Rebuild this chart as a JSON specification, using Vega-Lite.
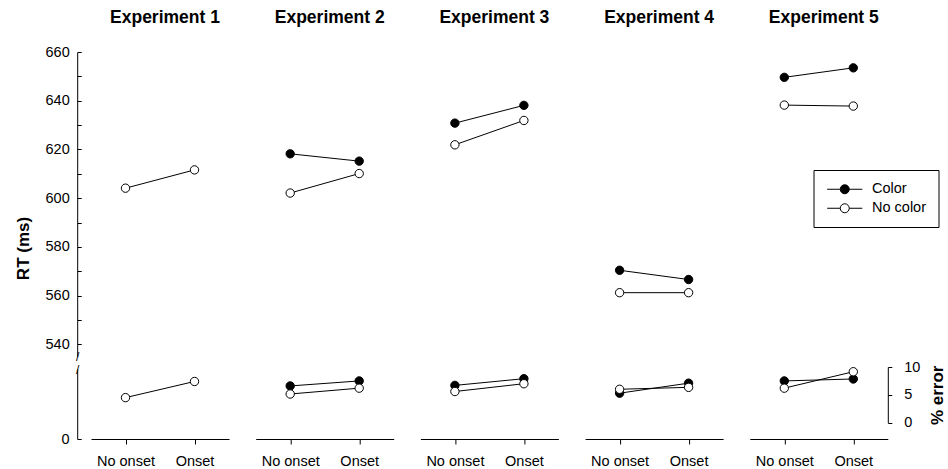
{
  "$schema": "https://vega.github.io/schema/vega-lite/v6.json",
  "padding": {"left": 14, "top": 9, "right": 0, "bottom": 0},
  "data": {"values": [
    {"Experiment": 1, "Onset": "No onset", "Condition": "No color", "RT": 604.1, "Err": 4.5},
    {"Experiment": 1, "Onset": "Onset", "Condition": "No color", "RT": 611.6, "Err": 7.4},
    {"Experiment": 2, "Onset": "No onset", "Condition": "Color", "RT": 618.2, "Err": 6.6},
    {"Experiment": 2, "Onset": "Onset", "Condition": "Color", "RT": 615.2, "Err": 7.5},
    {"Experiment": 2, "Onset": "No onset", "Condition": "No color", "RT": 602.1, "Err": 5.15},
    {"Experiment": 2, "Onset": "Onset", "Condition": "No color", "RT": 610.1, "Err": 6.2},
    {"Experiment": 3, "Onset": "No onset", "Condition": "Color", "RT": 630.8, "Err": 6.7},
    {"Experiment": 3, "Onset": "Onset", "Condition": "Color", "RT": 638.1, "Err": 7.9},
    {"Experiment": 3, "Onset": "No onset", "Condition": "No color", "RT": 621.9, "Err": 5.6},
    {"Experiment": 3, "Onset": "Onset", "Condition": "No color", "RT": 631.9, "Err": 7.0},
    {"Experiment": 4, "Onset": "No onset", "Condition": "Color", "RT": 570.4, "Err": 5.3},
    {"Experiment": 4, "Onset": "Onset", "Condition": "Color", "RT": 566.6, "Err": 7.1},
    {"Experiment": 4, "Onset": "No onset", "Condition": "No color", "RT": 561.2, "Err": 6.0},
    {"Experiment": 4, "Onset": "Onset", "Condition": "No color", "RT": 561.2, "Err": 6.35},
    {"Experiment": 5, "Onset": "No onset", "Condition": "Color", "RT": 649.6, "Err": 7.5},
    {"Experiment": 5, "Onset": "Onset", "Condition": "Color", "RT": 653.5, "Err": 7.85},
    {"Experiment": 5, "Onset": "No onset", "Condition": "No color", "RT": 638.2, "Err": 6.2},
    {"Experiment": 5, "Onset": "Onset", "Condition": "No color", "RT": 637.8, "Err": 9.15}
  ]},
  "spacing": 26.7,
  "bounds": "flush",
  "hconcat": [
    {
      "width": 138, "height": 397,
      "title": {"text": "Experiment 1"},
      "transform": [{"filter": "datum.Experiment == 1"}],
      "encoding": {"x": {"field": "Onset", "type": "nominal", "scale": {"type": "point", "domain": ["No onset", "Onset"], "padding": 0.5}}},
      "layer": [
        {
          "encoding": {"y": {"field": "RT", "type": "quantitative", "scale": {"domain": [535, 660], "range": [314.5, 10], "nice": false, "zero": false},
            "axis": {"orient": "left", "offset": 13.8, "values": [540, 550, 560, 570, 580, 590, 600, 610, 620, 630, 640, 650, 660], "labelExpr": "datum.value % 20 == 0 ? datum.label : ''", "tickSize": -4, "labelPadding": 12, "title": "RT (ms)", "titleFontSize": 17, "titleFontWeight": "bold", "titleY": 206, "titlePadding": 13}}},
          "layer": [
            {"mark": {"type": "line", "color": "black", "strokeWidth": 1}, "encoding": {"detail": {"field": "Condition"}}},
            {"mark": {"type": "point", "filled": true, "size": 70, "stroke": "black", "strokeWidth": 1, "opacity": 1}, "encoding": {"fill": {"field": "Condition", "type": "nominal", "scale": {"domain": ["Color", "No color"], "range": ["black", "white"]}, "legend": {"title": null}}}}
          ]
        },
        {
          "encoding": {"y": {"field": "Err", "type": "quantitative", "scale": {"domain": [0, 10], "range": [380.7, 325], "nice": false}, "axis": null}},
          "layer": [
            {"mark": {"type": "line", "color": "black", "strokeWidth": 1}, "encoding": {"detail": {"field": "Condition"}}},
            {"mark": {"type": "point", "filled": true, "size": 70, "stroke": "black", "strokeWidth": 1, "opacity": 1}, "encoding": {"fill": {"field": "Condition", "type": "nominal", "scale": {"domain": ["Color", "No color"], "range": ["black", "white"]}, "legend": {"title": null}}}}
          ]
        },
        {
          "mark": {"type": "point", "opacity": 0},
          "encoding": {"y": {"datum": 0, "type": "quantitative", "scale": {"domain": [0, 1], "range": [397, 327], "nice": false},
            "axis": {"orient": "left", "offset": 13.8, "values": [0], "labelExpr": "'0'", "tickSize": -4, "labelPadding": 12, "title": null}}}
        },
        {
          "mark": {"type": "point", "opacity": 0},
          "encoding": {"y": {"datum": 0, "type": "quantitative", "scale": {"domain": [0, 1], "range": [314, 327], "nice": false},
            "axis": {"orient": "left", "offset": 13.8, "values": [0, 1], "labelExpr": "'/'", "domain": false, "ticks": false, "tickSize": 0, "labelPadding": 0, "labelAlign": "center", "labelBaseline": "middle", "labelFontSize": 12, "title": null}}}
        }
      ],
      "resolve": {"scale": {"y": "independent"}}
    },
    {
      "width": 138, "height": 397,
      "title": {"text": "Experiment 2"},
      "transform": [{"filter": "datum.Experiment == 2"}],
      "encoding": {"x": {"field": "Onset", "type": "nominal", "scale": {"type": "point", "domain": ["No onset", "Onset"], "padding": 0.5}}},
      "layer": [
        {
          "encoding": {"y": {"field": "RT", "type": "quantitative", "scale": {"domain": [535, 660], "range": [314.5, 10], "nice": false, "zero": false}, "axis": null}},
          "layer": [
            {"mark": {"type": "line", "color": "black", "strokeWidth": 1}, "encoding": {"detail": {"field": "Condition"}}},
            {"mark": {"type": "point", "filled": true, "size": 70, "stroke": "black", "strokeWidth": 1, "opacity": 1}, "encoding": {"fill": {"field": "Condition", "type": "nominal", "scale": {"domain": ["Color", "No color"], "range": ["black", "white"]}, "legend": {"title": null}}}}
          ]
        },
        {
          "encoding": {"y": {"field": "Err", "type": "quantitative", "scale": {"domain": [0, 10], "range": [380.7, 325], "nice": false}, "axis": null}},
          "layer": [
            {"mark": {"type": "line", "color": "black", "strokeWidth": 1}, "encoding": {"detail": {"field": "Condition"}}},
            {"mark": {"type": "point", "filled": true, "size": 70, "stroke": "black", "strokeWidth": 1, "opacity": 1}, "encoding": {"fill": {"field": "Condition", "type": "nominal", "scale": {"domain": ["Color", "No color"], "range": ["black", "white"]}, "legend": {"title": null}}}}
          ]
        }
      ],
      "resolve": {"scale": {"y": "independent"}}
    },
    {
      "width": 138, "height": 397,
      "title": {"text": "Experiment 3"},
      "transform": [{"filter": "datum.Experiment == 3"}],
      "encoding": {"x": {"field": "Onset", "type": "nominal", "scale": {"type": "point", "domain": ["No onset", "Onset"], "padding": 0.5}}},
      "layer": [
        {
          "encoding": {"y": {"field": "RT", "type": "quantitative", "scale": {"domain": [535, 660], "range": [314.5, 10], "nice": false, "zero": false}, "axis": null}},
          "layer": [
            {"mark": {"type": "line", "color": "black", "strokeWidth": 1}, "encoding": {"detail": {"field": "Condition"}}},
            {"mark": {"type": "point", "filled": true, "size": 70, "stroke": "black", "strokeWidth": 1, "opacity": 1}, "encoding": {"fill": {"field": "Condition", "type": "nominal", "scale": {"domain": ["Color", "No color"], "range": ["black", "white"]}, "legend": {"title": null}}}}
          ]
        },
        {
          "encoding": {"y": {"field": "Err", "type": "quantitative", "scale": {"domain": [0, 10], "range": [380.7, 325], "nice": false}, "axis": null}},
          "layer": [
            {"mark": {"type": "line", "color": "black", "strokeWidth": 1}, "encoding": {"detail": {"field": "Condition"}}},
            {"mark": {"type": "point", "filled": true, "size": 70, "stroke": "black", "strokeWidth": 1, "opacity": 1}, "encoding": {"fill": {"field": "Condition", "type": "nominal", "scale": {"domain": ["Color", "No color"], "range": ["black", "white"]}, "legend": {"title": null}}}}
          ]
        }
      ],
      "resolve": {"scale": {"y": "independent"}}
    },
    {
      "width": 138, "height": 397,
      "title": {"text": "Experiment 4"},
      "transform": [{"filter": "datum.Experiment == 4"}],
      "encoding": {"x": {"field": "Onset", "type": "nominal", "scale": {"type": "point", "domain": ["No onset", "Onset"], "padding": 0.5}}},
      "layer": [
        {
          "encoding": {"y": {"field": "RT", "type": "quantitative", "scale": {"domain": [535, 660], "range": [314.5, 10], "nice": false, "zero": false}, "axis": null}},
          "layer": [
            {"mark": {"type": "line", "color": "black", "strokeWidth": 1}, "encoding": {"detail": {"field": "Condition"}}},
            {"mark": {"type": "point", "filled": true, "size": 70, "stroke": "black", "strokeWidth": 1, "opacity": 1}, "encoding": {"fill": {"field": "Condition", "type": "nominal", "scale": {"domain": ["Color", "No color"], "range": ["black", "white"]}, "legend": {"title": null}}}}
          ]
        },
        {
          "encoding": {"y": {"field": "Err", "type": "quantitative", "scale": {"domain": [0, 10], "range": [380.7, 325], "nice": false}, "axis": null}},
          "layer": [
            {"mark": {"type": "line", "color": "black", "strokeWidth": 1}, "encoding": {"detail": {"field": "Condition"}}},
            {"mark": {"type": "point", "filled": true, "size": 70, "stroke": "black", "strokeWidth": 1, "opacity": 1}, "encoding": {"fill": {"field": "Condition", "type": "nominal", "scale": {"domain": ["Color", "No color"], "range": ["black", "white"]}, "legend": {"title": null}}}}
          ]
        }
      ],
      "resolve": {"scale": {"y": "independent"}}
    },
    {
      "width": 138, "height": 397,
      "title": {"text": "Experiment 5"},
      "transform": [{"filter": "datum.Experiment == 5"}],
      "encoding": {"x": {"field": "Onset", "type": "nominal", "scale": {"type": "point", "domain": ["No onset", "Onset"], "padding": 0.5}}},
      "layer": [
        {
          "encoding": {"y": {"field": "RT", "type": "quantitative", "scale": {"domain": [535, 660], "range": [314.5, 10], "nice": false, "zero": false}, "axis": null}},
          "layer": [
            {"mark": {"type": "line", "color": "black", "strokeWidth": 1}, "encoding": {"detail": {"field": "Condition"}}},
            {"mark": {"type": "point", "filled": true, "size": 70, "stroke": "black", "strokeWidth": 1, "opacity": 1}, "encoding": {"fill": {"field": "Condition", "type": "nominal", "scale": {"domain": ["Color", "No color"], "range": ["black", "white"]}, "legend": {"title": null}}}}
          ]
        },
        {
          "encoding": {"y": {"field": "Err", "type": "quantitative", "scale": {"domain": [0, 10], "range": [380.7, 325], "nice": false},
            "axis": {"orient": "right", "values": [0, 5, 10], "tickSize": 4, "labelPadding": 12, "title": "% error", "titleAngle": 270, "titleBaseline": "top", "titleFontSize": 17, "titleFontWeight": "bold", "titlePadding": 10}}},
          "layer": [
            {"mark": {"type": "line", "color": "black", "strokeWidth": 1}, "encoding": {"detail": {"field": "Condition"}}},
            {"mark": {"type": "point", "filled": true, "size": 70, "stroke": "black", "strokeWidth": 1, "opacity": 1}, "encoding": {"fill": {"field": "Condition", "type": "nominal", "scale": {"domain": ["Color", "No color"], "range": ["black", "white"]}, "legend": {"title": null}}}}
          ]
        }
      ],
      "resolve": {"scale": {"y": "independent"}}
    }
  ],
  "config": {
    "font": "Liberation Sans",
    "view": {"stroke": null},
    "title": {"fontSize": 17.5, "fontWeight": "bold", "color": "black", "frame": "group", "anchor": "middle", "dx": 5, "offset": 15.5},
    "axis": {"grid": false, "domainColor": "black", "tickColor": "black", "labelColor": "black", "labelFontSize": 14.5, "titleColor": "black", "labelFont": "Liberation Sans", "titleFont": "Liberation Sans"},
    "axisX": {"title": null, "labelAngle": 0, "tickSize": 5, "labelPadding": 10},
    "legend": {"orient": "none", "legendX": 722.5, "legendY": 128, "strokeColor": "black", "fillColor": "white", "padding": 12, "rowPadding": 4, "cornerRadius": 0,
      "symbolType": "M-3.9,0H-1M1,0H3.9M1,0A1,1,0,1,1,-1,0A1,1,0,1,1,1,0Z", "symbolSize": 81, "symbolStrokeColor": "black", "symbolStrokeWidth": 1, "symbolOffset": 12, "labelOffset": 20, "labelFontSize": 14.5, "labelColor": "black"}
  }
}
